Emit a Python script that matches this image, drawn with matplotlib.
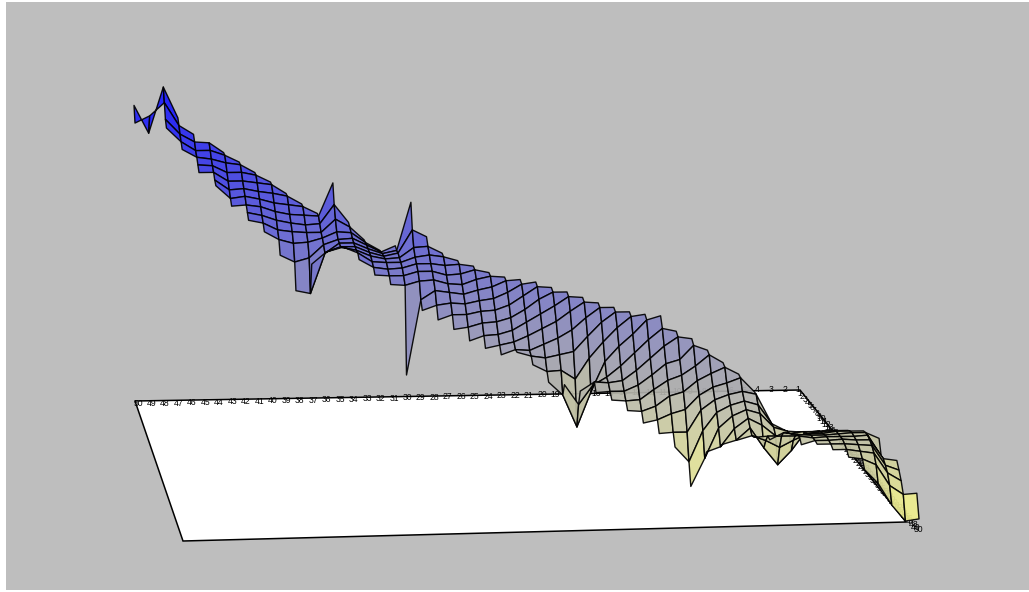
import numpy as np
import matplotlib
matplotlib.use("Agg")
import matplotlib.pyplot as plt
from matplotlib.collections import PolyCollection
from matplotlib.colors import LinearSegmentedColormap, Normalize
from matplotlib.patches import Polygon, Rectangle

n = np.nan

# axis labels on the floor
x_labels = list(range(50, 0, -1))
y_labels = list(range(1, 51))

# surface height, one row per x (50 down to 0), columns are x + y - 50 = -4 .. 4
heights = [
    [n, n, n, n, 293, 278, n, n, n],
    [n, n, n, 265, 285, n, n, n, n],
    [n, n, 311, 298, 284, 278, n, n, n],
    [n, 280, 275, 269, 264, 259, n, n, n],
    [n, 266, 261, 255, 251, 246, 241, n, n],
    [n, 260, 255, 249, 245, 241, 236, 233, n],
    [250, 250, 245, 238, 232, 226, 220, 215, n],
    [243, 243, 238, 232, 227, 222, 216, 211, 206],
    [235, 235, 230, 224, 219, 214, 208, 203, 197],
    [228, 228, 222, 215, 209, 203, 196, 189, 176],
    [219, 219, 213, 206, 200, 194, 185, 169, 143],
    [211, 211, 205, 198, 193, 186, 173, 140, 172],
    [204, 204, 199, 193, 190, 186, 180, 184, 187],
    [237, 218, 206, 196, 191, 190, 189, 191, 194],
    [200, 198, 195, 192, 190, 189, 188, 188, 184],
    [185, 185, 185, 184, 183, 182, 179, 176, 171],
    [177, 178, 179, 179, 179, 178, 174, 170, 164],
    [184, 182, 182, 180, 178, 175, 170, 163, 76],
    [230, 205, 190, 183, 179, 174, 167, 151, 143],
    [198, 191, 185, 179, 174, 168, 160, 148, 136],
    [184, 183, 177, 170, 164, 158, 150, 141, 129],
    [179, 178, 171, 163, 156, 149, 141, 131, 120],
    [176, 175, 168, 160, 152, 144, 135, 125, 115],
    [172, 171, 163, 154, 145, 136, 126, 118, 111],
    [170, 169, 160, 150, 140, 130, 121, 116, 116],
    [170, 168, 159, 148, 138, 127, 115, 112, 106],
    [170, 168, 158, 146, 134, 121, 110, 99, 91],
    [167, 165, 154, 141, 127, 113, 100, 78, 91],
    [165, 163, 151, 135, 116, 91, 46, 71, 87],
    [162, 160, 147, 131, 112, 81, 90, 96, 88],
    [159, 157, 145, 128, 111, 98, 95, 89, 83],
    [157, 155, 142, 126, 109, 97, 89, 82, 75],
    [155, 153, 138, 122, 107, 95, 83, 74, 65],
    [155, 152, 135, 119, 105, 93, 79, 68, 57],
    [156, 146, 131, 116, 102, 89, 74, 58, 46],
    [143, 140, 120, 107, 93, 78, 58, 31, 9],
    [138, 134, 116, 104, 92, 80, 62, 37, 46],
    [129, 127, 111, 100, 90, 80, 67, 51, 56],
    [119, 117, 104, 95, 87, 79, 69, 60, 63],
    [110, 109, 98, 91, 85, 79, 72, 67, 68],
    [95, 95, 87, 81, 72, 52, 62, 69, 68],
    [69, 68, 67, 61, 35, 55, 69, 75, 78],
    [61, 63, 63, 49, 62, 69, 73, 74, 68],
    [62, 65, 67, 68, 71, 72, 72, 72, 71],
    [65, 68, 70, 71, 72, 73, 72, 71, 68],
    [69, 71, 73, 73, 73, 73, 71, 68, 63],
    [71, 73, 74, 73, 72, 70, 66, 61, 53],
    [73, 74, 74, 72, 69, 64, 55, 39, n],
    [68, 53, 53, 49, 44, 34, 17, n, n],
    [n, 51, 44, 36, 25, 1, n, n, n],
    [n, n, n, 26, 3, n, n, n, n],
]
heights = np.array(heights, dtype=float)


def project(row, y, z):
    # row 0 is x=50, camera looks along the floor diagonal
    s = y - row
    px = 134 + 15.7 * row + (1 + 0.0236 * row) * s
    py = 398.4 + 2.47 * row + 2.65 * s - z
    return px, py


def height_at(row, y):
    col = y - row + 4
    if col < 0 or col > 8:
        return np.nan
    return heights[row, col]


cmap = LinearSegmentedColormap.from_list("blue_yellow", ["#F8F888", "#1414FF"])
norm = Normalize(0, 300)

quads = []
values = []
order = []
for row in range(50):
    for y in range(50):
        corners = [(row, y), (row + 1, y), (row + 1, y + 1), (row, y + 1)]
        zs = [height_at(r, c) for r, c in corners]
        if np.isnan(zs).any():
            continue
        quads.append([project(r, c, z) for (r, c), z in zip(corners, zs)])
        values.append(np.mean(zs))
        order.append(y * 100 + row)

idx = np.argsort(order)
quads = [quads[i] for i in idx]
values = np.array(values)[idx]

fig = plt.figure(figsize=(10.29, 5.92), dpi=100, facecolor="white")
ax = fig.add_axes([0, 0, 1, 1])
ax.set_xlim(0, 1029)
ax.set_ylim(592, 0)
ax.axis("off")

ax.add_patch(Rectangle((6, 2), 1023, 588, facecolor="#BEBEBE", edgecolor="none", zorder=0))

# floor
floor = [(135, 401), (800, 390), (906, 522), (183, 541)]
ax.add_patch(Polygon(floor, closed=True, facecolor="white", edgecolor="black", lw=1.1, zorder=1))

label_font = {"family": "Liberation Sans", "fontsize": 6.2, "color": "black", "ha": "center", "va": "center", "zorder": 2}
for label, px, py in zip(x_labels, np.linspace(138, 798, 50), np.linspace(404, 389, 50)):
    ax.text(px, py, str(label), **label_font)
for label, px, py in zip(y_labels, np.linspace(800, 918, 50), np.linspace(394, 530, 50)):
    ax.text(px, py, str(label), **label_font)

surface = PolyCollection(quads, array=values, cmap=cmap, norm=norm, edgecolors="black",
                         linewidths=1.0, alpha=0.92, zorder=3)
ax.add_collection(surface)

fig.savefig("out.png", dpi=100)
